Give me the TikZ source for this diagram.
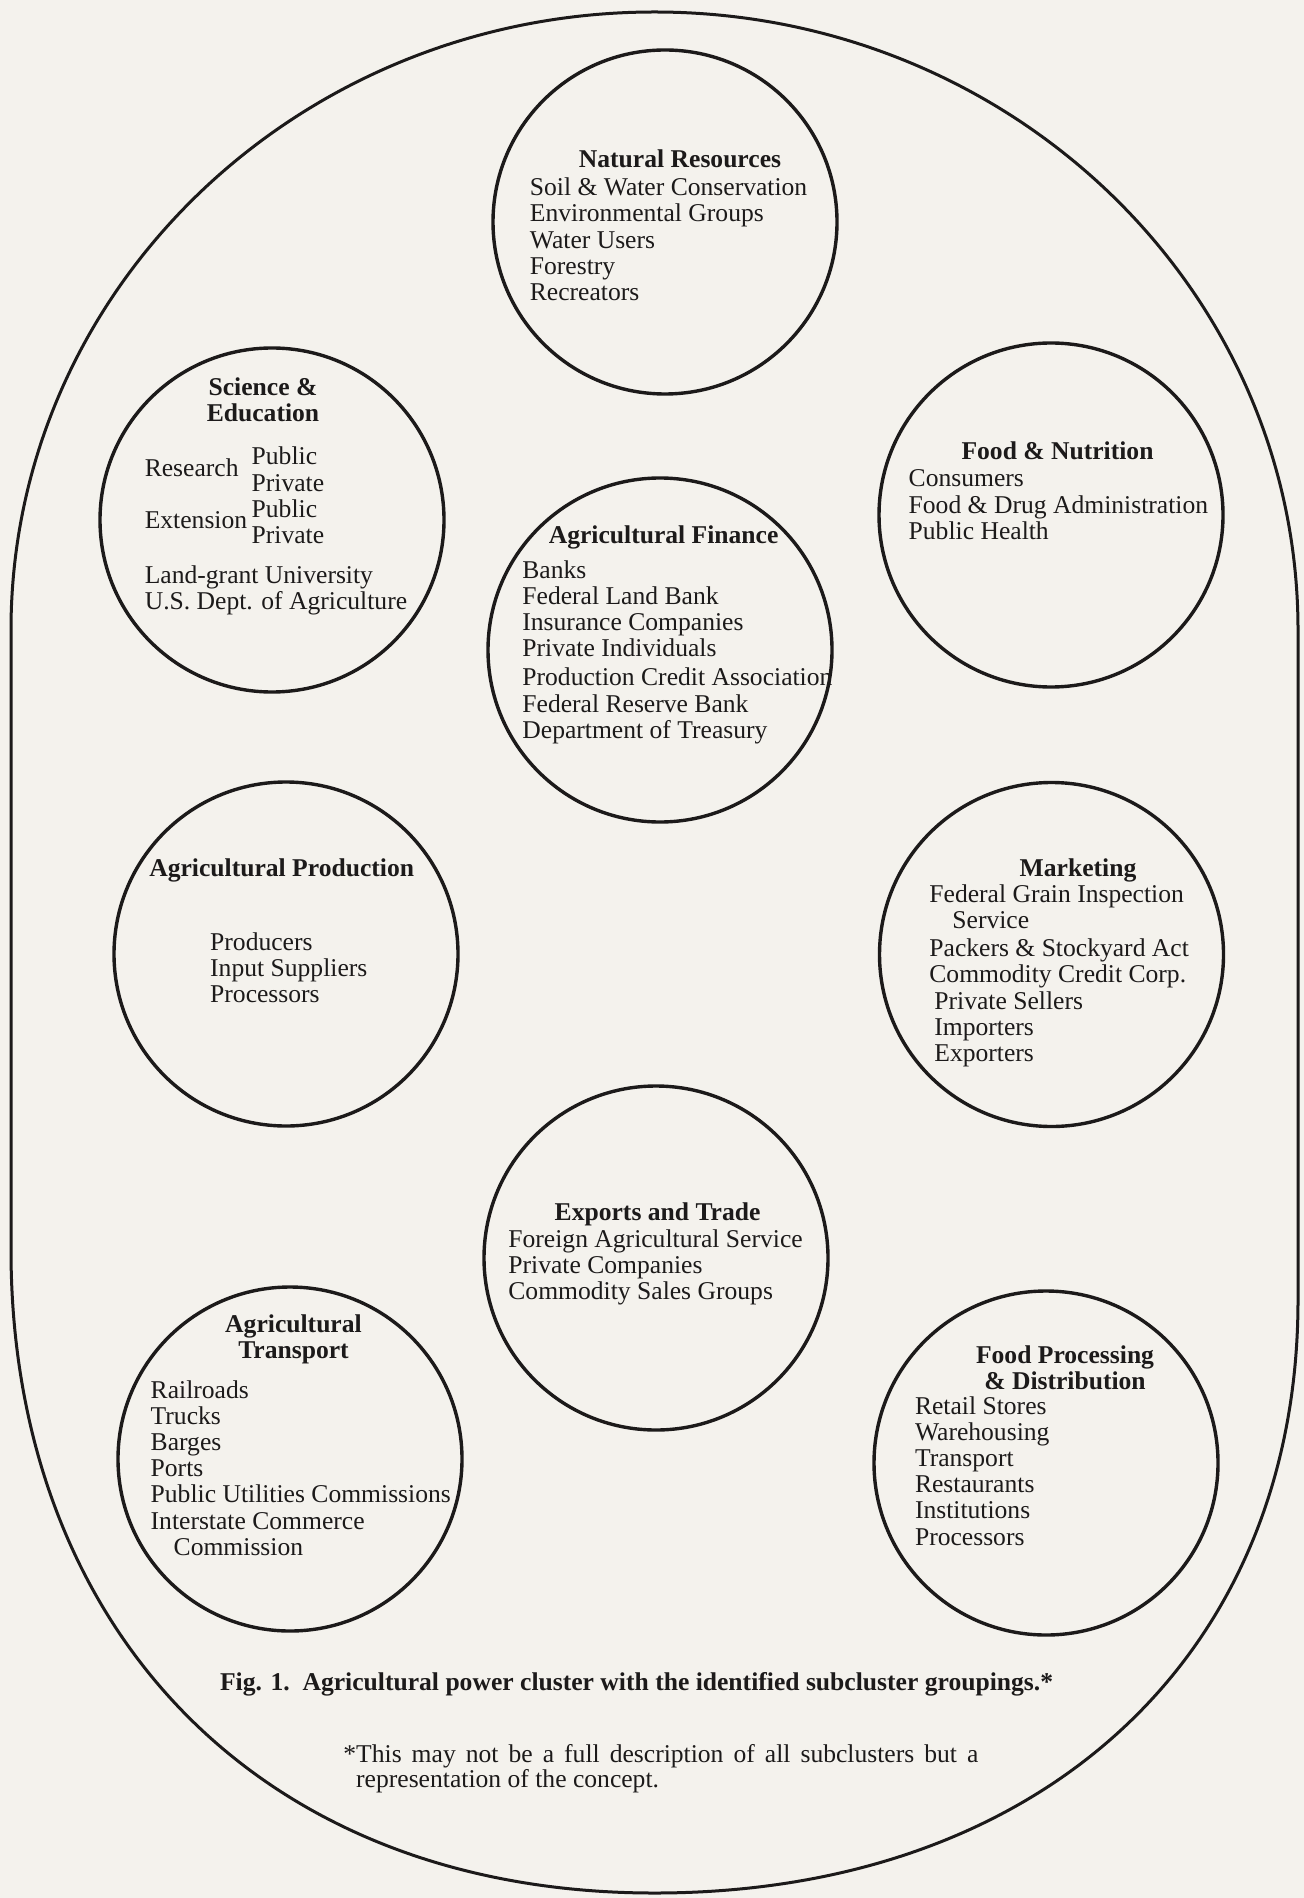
\documentclass[tikz,border=0pt]{standalone}
\usepackage{fontspec}
\setmainfont{Liberation Serif}
\definecolor{paper}{RGB}{244,242,237}
\definecolor{ink}{RGB}{28,26,26}
\newcommand\bodysize{\fontsize{12.8pt}{13.1pt}\selectfont}
\newcommand\lines[1]{\begin{tabular}[t]{@{}l@{}}#1\end{tabular}}
\newcommand\clines[1]{\begin{tabular}[t]{@{}c@{}}#1\end{tabular}}
\begin{document}
\begin{tikzpicture}[x=0.5pt,y=-0.5pt,
  sub/.style={circle, draw=ink, line width=1.7pt, minimum size=172pt, inner sep=0pt},
  txt/.style={anchor=base west, inner sep=0pt, font=\bodysize, text=ink},
  hdr/.style={anchor=base, inner sep=0pt, font=\bodysize\bfseries, text=ink},
  outer/.style={draw=ink, line width=1.5pt}]
\fill[paper] (0,0) rectangle (1304,1898);
\useasboundingbox (0,0) rectangle (1304,1898);

% outer cluster boundary
\draw[outer] (11,630)
  arc[start angle=180, end angle=270, x radius=643.5, y radius=618]
  arc[start angle=270, end angle=360, x radius=643.5, y radius=618]
  -- (1298,1300)
  .. controls (1298,1656) and (1040.6,1893) .. (654.5,1893)
  .. controls (255.5,1893) and (11,1624) .. (11,1250)
  -- cycle;

% subclusters
\node[sub] (nr) at (665,222) {};
\node[sub] (se) at (272,520) {};
\node[sub] (fn) at (1051,515) {};
\node[sub] (af) at (660,650) {};
\node[sub] (ap) at (286,954) {};
\node[sub] (mk) at (1051.5,954.5) {};
\node[sub] (et) at (656,1258) {};
\node[sub] (at) at (290,1459) {};
\node[sub] (fp) at (1046,1463) {};

% Natural Resources
\node[hdr] (nrh) at (680,168) {Natural Resources};
\node[txt] (nrb) at (529.5,195.7) {\lines{Soil \& Water Conservation\\Environmental Groups\\Water Users\\Forestry\\Recreators}};

% Science & Education
\node[hdr] (seh) at (263,395.6) {\clines{Science \&\\Education}};
\node[txt] (ser) at (144.4,476.4) {Research};
\node[txt] (sep) at (251.3,465) {\lines{Public\\Private\\Public\\Private}};
\node[txt] (see) at (144.4,528.5) {Extension};
\node[txt] (sel) at (144.4,583) {\lines{Land-grant University\\U.S. Dept. of Agriculture}};

% Food & Nutrition
\node[hdr] (fnh) at (1057.5,460) {Food \& Nutrition};
\node[txt] (fnb) at (908.3,487) {\lines{Consumers\\Food \& Drug Administration\\Public Health}};

% Agricultural Finance
\node[hdr] (afh) at (663.6,543.3) {Agricultural Finance};
\node[txt] (afb) at (522,578) {\lines{Banks\\Federal Land Bank\\Insurance Companies\\Private Individuals\\[1.5pt]Production Credit Association\\Federal Reserve Bank\\Department of Treasury}};

% Agricultural Production
\node[hdr] (aph) at (281.7,876.8) {Agricultural Production};
\node[txt] (apb) at (209.8,950.4) {\lines{Producers\\Input Suppliers\\Processors}};

% Marketing
\node[hdr] (mkh) at (1078,876.8) {Marketing};
\node[txt] (mkb) at (929,902.7) {\lines{Federal Grain Inspection\\\hspace{11.5pt}Service\\[0.5pt]Packers \& Stockyard Act\\Commodity Credit Corp.\\[0.5pt]\hspace{2.5pt}Private Sellers\\\hspace{2.5pt}Importers\\\hspace{2.5pt}Exporters}};

% Exports and Trade
\node[hdr] (eth) at (657.6,1220.5) {Exports and Trade};
\node[txt] (etb) at (508,1247.3) {\lines{Foreign Agricultural Service\\Private Companies\\Commodity Sales Groups}};

% Agricultural Transport
\node[hdr] (ath) at (293.5,1332.7) {\clines{Agricultural\\Transport}};
\node[txt] (atb) at (150.3,1398) {\lines{Railroads\\Trucks\\Barges\\Ports\\Public Utilities Commissions\\Interstate Commerce\\\hspace{11.5pt}Commission}};

% Food Processing & Distribution
\node[hdr] (fph) at (1065,1363.4) {\clines{Food Processing\\\& Distribution}};
\node[txt] (fpb) at (914.6,1414) {\lines{Retail Stores\\Warehousing\\Transport\\Restaurants\\Institutions\\Processors}};

% caption and note
\node[txt, font=\bodysize\bfseries] (cap) at (219.7,1690.4) {Fig. 1.\ \ Agricultural power cluster with the identified subcluster groupings.*};
\node[txt] (note) at (343,1762) {\begin{tabular}[t]{@{}l@{}}\makebox[317.5pt][s]{*This may not be a full description of all subclusters but a}\\[-0.5pt]\phantom{*}representation of the concept.\end{tabular}};
\end{tikzpicture}
\end{document}
